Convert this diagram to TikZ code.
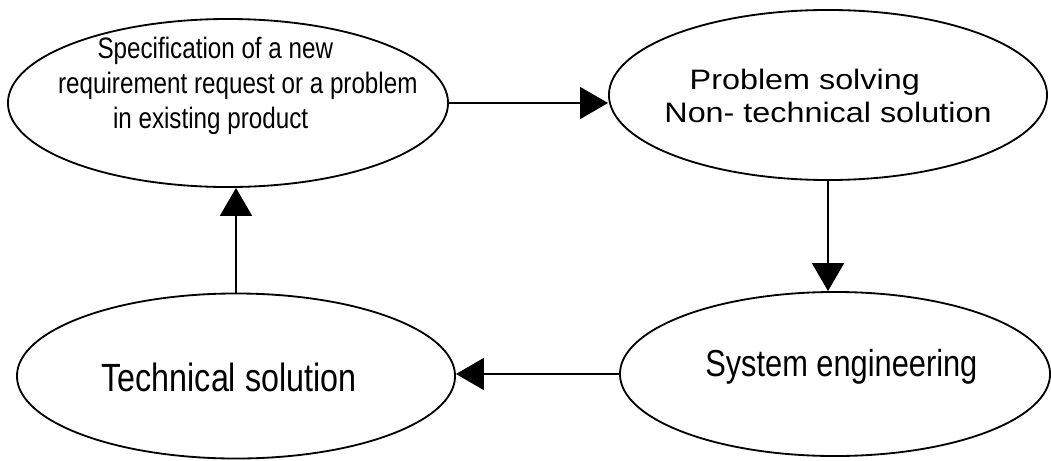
\documentclass[tikz,border=0pt]{standalone}
\usepackage{fontspec}
\setmainfont{Liberation Sans}
\newfontfamily\narrowsf{Liberation Sans}[FakeStretch=0.82]
\newfontfamily\widesf{Liberation Sans}[FakeStretch=1.15]
\usetikzlibrary{arrows.meta,shapes.geometric}
\newcommand{\stagelines}[2][0pt]{\makebox[0pt]{\raisebox{#1}[0pt][0pt]{\begin{tabular}{@{}l@{}}#2\end{tabular}}}}

\begin{document}
\begin{tikzpicture}[x=0.025cm,y=-0.025cm,>={Triangle[length=0.7cm,width=0.8cm]},
  stage/.style={draw,ellipse,line width=1.3pt,inner sep=0pt},
  link/.style={->,line width=1.3pt}]
\useasboundingbox (0,0) rectangle (1051,460);
\node[stage,minimum width=11cm,minimum height=4.2cm,font=\narrowsf\fontsize{21}{25}\selectfont] (spec) at (228,103)
  {\hspace*{14pt}\stagelines[6.5pt]{\hspace*{28pt}Specification of a new\\requirement request or a problem\\\hspace*{39pt}in existing product}};
\node[stage,minimum width=10.95cm,minimum height=4.25cm,font=\widesf\fontsize{20}{23}\selectfont] (prob) at (828,95)
  {\stagelines[-8.5pt]{\hspace*{18pt}Problem solving\\Non- technical solution}};
\node[stage,minimum width=10.75cm,minimum height=4.1cm,font=\narrowsf\fontsize{26.7}{30}\selectfont] (sys) at (835,374)
  {\stagelines[-1.7pt]{\hspace*{9pt}System engineering}};
\node[stage,minimum width=10.95cm,minimum height=4.125cm,font=\narrowsf\fontsize{28}{32}\selectfont] (tech) at (236,376)
  {\stagelines[-10.5pt]{Technical solution\hspace*{10pt}}};
\draw[link] (spec.east) -- (spec.east -| prob.west);
\draw[link] (prob.south) -- (prob.south |- sys.north);
\draw[link] (sys.west) -- (sys.west -| tech.east);
\draw[link] (tech.north) -- (tech.north |- spec.south);
\end{tikzpicture}
\end{document}
